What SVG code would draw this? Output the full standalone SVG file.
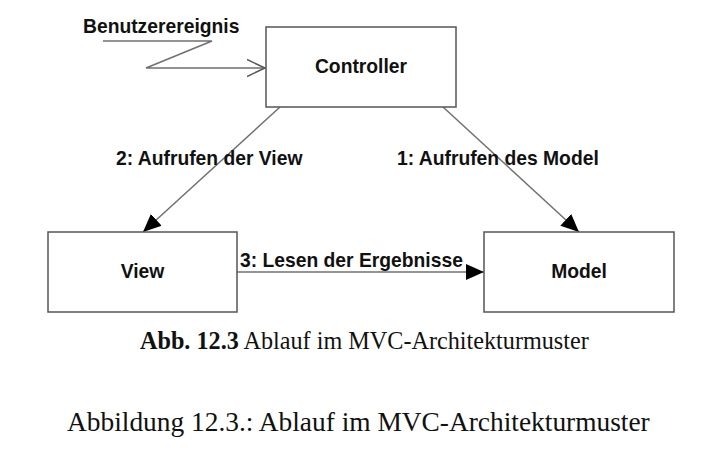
<svg xmlns="http://www.w3.org/2000/svg" width="708" height="456" viewBox="0 0 708 456">
  <style>
    .box { fill: #ffffff; stroke: #555555; stroke-width: 1.5; }
    .lbl { font-family: "Liberation Sans", Arial, sans-serif; font-weight: bold; font-size: 19.3px; fill: #111111; }
    .conn { fill: none; stroke: #707070; stroke-width: 1.5; }
    .cap { font-family: "Liberation Serif", "Times New Roman", serif; fill: #111111; }
  </style>
  <defs>
    <marker id="filled" viewBox="0 0 18 16" refX="18" refY="8" markerWidth="18" markerHeight="16" markerUnits="userSpaceOnUse" orient="auto">
      <path d="M0,0 L18,8 L0,16 Z" fill="#000000"/>
    </marker>
    <marker id="open" viewBox="0 0 20 20" refX="18" refY="10" markerWidth="20" markerHeight="20" markerUnits="userSpaceOnUse" orient="auto">
      <path d="M0,1.5 L18,10 L0,18.5" fill="none" stroke="#555555" stroke-width="1.5"/>
    </marker>
  </defs>

  <rect width="708" height="456" fill="#ffffff"/>

  <g id="connectors">
    <polyline class="conn" points="103,41 212,41 146,68 265,68" marker-end="url(#open)"/>
    <line class="conn" x1="280" y1="107" x2="143" y2="232" marker-end="url(#filled)"/>
    <line class="conn" x1="443" y1="107" x2="579" y2="232" marker-end="url(#filled)"/>
    <line class="conn" x1="237" y1="272" x2="484" y2="272" marker-end="url(#filled)"/>
  </g>

  <g id="controller">
    <rect class="box" x="266" y="27" width="190" height="80"/>
    <text class="lbl" x="361" y="73" text-anchor="middle">Controller</text>
  </g>

  <g id="view">
    <rect class="box" x="48" y="232" width="189" height="80"/>
    <text class="lbl" x="142.5" y="278" text-anchor="middle">View</text>
  </g>

  <g id="model">
    <rect class="box" x="484" y="232" width="190" height="80"/>
    <text class="lbl" x="579" y="278" text-anchor="middle">Model</text>
  </g>

  <g id="labels">
    <text class="lbl" x="83" y="33">Benutzerereignis</text>
    <text class="lbl" x="116" y="165">2: Aufrufen der View</text>
    <text class="lbl" x="397" y="165">1: Aufrufen des Model</text>
    <text class="lbl" x="240" y="267">3: Lesen der Ergebnisse</text>
  </g>

  <g id="captions">
    <text class="cap" x="140" y="349" font-size="24.2"><tspan font-weight="bold">Abb. 12.3</tspan> Ablauf im MVC-Architekturmuster</text>
    <text class="cap" x="67" y="431" font-size="27.4">Abbildung 12.3.: Ablauf im MVC-Architekturmuster</text>
  </g>
</svg>
